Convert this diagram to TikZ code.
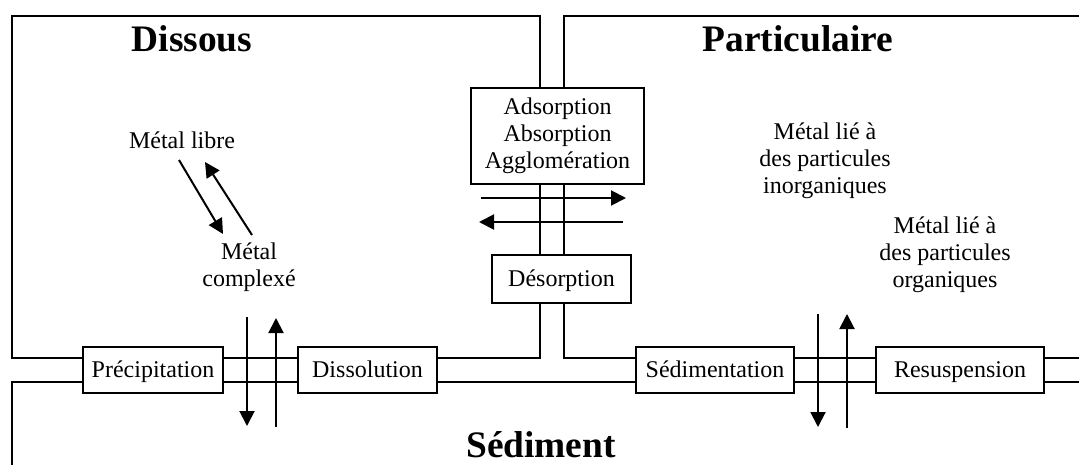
\documentclass[tikz,border=0pt]{standalone}
\usepackage{fontspec}
\setmainfont{Liberation Serif}
\usetikzlibrary{arrows.meta}

\tikzset{
  wall/.style={line width=1pt},
  procbox/.style={draw, fill=white, line width=1pt, minimum height=23pt, inner sep=2pt,
    text height=9pt, text depth=2pt, font=\fontsize{12}{13.5}\selectfont},
  lbl/.style={align=center, font=\fontsize{12}{13.5}\selectfont},
  ttl/.style={anchor=base, font=\fontsize{18.7}{20}\selectfont\bfseries},
  flux/.style={-{Triangle[length=7.5pt,width=7.5pt]}, line width=1pt}
}

\begin{document}
\begin{tikzpicture}[x=0.5pt, y=-0.5pt]
  \useasboundingbox (0,0) rectangle (1079,465);

  % compartments
  \draw[wall] (12,16) rectangle (540,358);
  \draw[wall] (1079,16) -- (564,16) -- (564,358) -- (1079,358);
  \draw[wall] (12,465) -- (12,382) -- (1079,382);

  % titles
  \node[ttl] (dissous) at (192,52) {Dissous};
  \node[ttl] (partic) at (798,52) {Particulaire};
  \node[ttl] (sedim) at (541,457) {Sédiment};

  % processes
  \node[draw, fill=white, line width=1pt, minimum width=86.5pt, minimum height=48pt, align=center,
    font=\fontsize{12}{13.5}\selectfont] (adsorp) at (557.5,136) {Adsorption\\Absorption\\Agglomération};
  \node[procbox, minimum width=69.5pt, minimum height=24pt] (desorp) at (561.5,279) {Désorption};
  \node[procbox, minimum width=70pt] (precip) at (153,370) {Précipitation};
  \node[procbox, minimum width=69.5pt] (dissol) at (367.5,370) {Dissolution};
  \node[procbox, minimum width=79pt] (sedimt) at (715,370) {Sédimentation};
  \node[procbox, minimum width=84pt] (resusp) at (960,370) {Resuspension};

  % species
  \node[lbl] (libre) at (182,140) {Métal libre};
  \node[lbl] (complexe) at (249,267) {Métal\\complexé};
  \node[lbl] (inorg) at (825,161) {Métal lié à\\des particules\\inorganiques};
  \node[lbl] (org) at (945,255) {Métal lié à\\des particules\\organiques};

  % arrow ends
  \coordinate (lc1) at (179,160);
  \coordinate (lc2) at (223,234);
  \coordinate (cl1) at (252,235);
  \coordinate (cl2) at (205,162);

  \coordinate (dp1) at (481,198);
  \coordinate (dp2) at (626,198);
  \coordinate (pd1) at (623,222);
  \coordinate (pd2) at (479,222);

  \coordinate (ds1) at (247,317);
  \coordinate (ds2) at (247,426);
  \coordinate (sd1) at (276,427);
  \coordinate (sd2) at (276,318);

  \coordinate (ps1) at (818,314);
  \coordinate (ps2) at (818,427);
  \coordinate (sp1) at (847,428);
  \coordinate (sp2) at (847,314);

  % exchanges
  \draw[flux] (lc1) -- (lc2);
  \draw[flux] (cl1) -- (cl2);

  \draw[flux] (dp1) -- (dp2);
  \draw[flux] (pd1) -- (pd2);

  \draw[flux] (ds1) -- (ds2);
  \draw[flux] (sd1) -- (sd2);

  \draw[flux] (ps1) -- (ps2);
  \draw[flux] (sp1) -- (sp2);
\end{tikzpicture}
\end{document}
